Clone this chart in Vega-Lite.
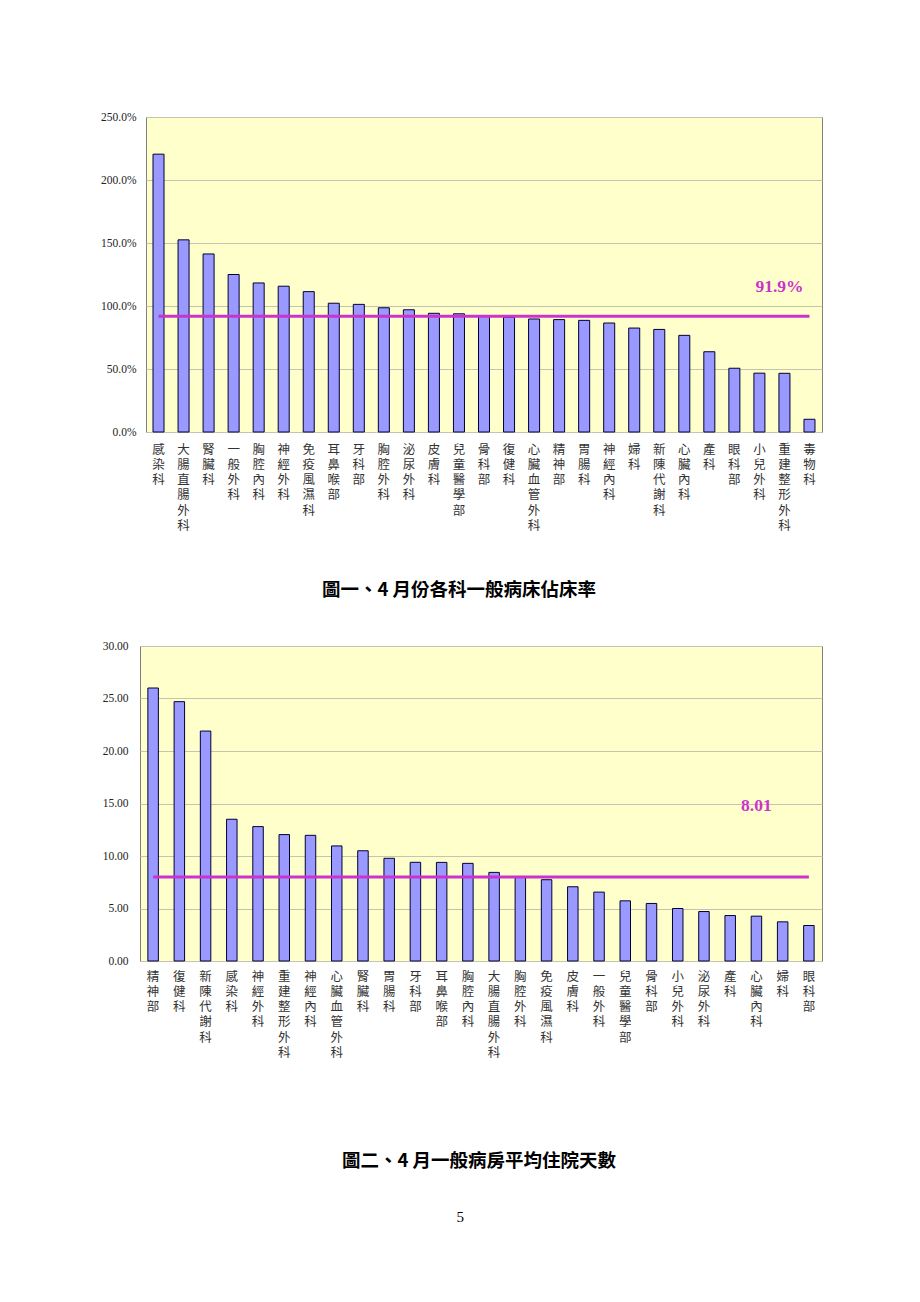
{
  "$schema": "https://vega.github.io/schema/vega-lite/v6.json",
  "background": "white",
  "padding": {"left": 100, "top": 110, "right": 0, "bottom": 0},
  "datasets": {
    "occ": [
      {"dept": "感染科", "rate": 220.5},
      {"dept": "大腸直腸外科", "rate": 152.5},
      {"dept": "腎臟科", "rate": 141.3},
      {"dept": "一般外科", "rate": 125.0},
      {"dept": "胸腔內科", "rate": 118.3},
      {"dept": "神經外科", "rate": 115.7},
      {"dept": "免疫風濕科", "rate": 111.4},
      {"dept": "耳鼻喉部", "rate": 102.2},
      {"dept": "牙科部", "rate": 101.3},
      {"dept": "胸腔外科", "rate": 98.6},
      {"dept": "泌尿外科", "rate": 97.0},
      {"dept": "皮膚科", "rate": 94.2},
      {"dept": "兒童醫學部", "rate": 93.8},
      {"dept": "骨科部", "rate": 92.4},
      {"dept": "復健科", "rate": 91.0},
      {"dept": "心臟血管外科", "rate": 89.7},
      {"dept": "精神部", "rate": 89.2},
      {"dept": "胃腸科", "rate": 88.6},
      {"dept": "神經內科", "rate": 86.5},
      {"dept": "婦科", "rate": 82.5},
      {"dept": "新陳代謝科", "rate": 81.4},
      {"dept": "心臟內科", "rate": 76.7},
      {"dept": "產科", "rate": 63.7},
      {"dept": "眼科部", "rate": 50.6},
      {"dept": "小兒外科", "rate": 46.7},
      {"dept": "重建整形外科", "rate": 46.6},
      {"dept": "毒物科", "rate": 10.1}
    ],
    "los": [
      {"dept": "精神部", "days": 26.0},
      {"dept": "復健科", "days": 24.7},
      {"dept": "新陳代謝科", "days": 21.9},
      {"dept": "感染科", "days": 13.5},
      {"dept": "神經外科", "days": 12.8},
      {"dept": "重建整形外科", "days": 12.04},
      {"dept": "神經內科", "days": 11.97},
      {"dept": "心臟血管外科", "days": 10.96},
      {"dept": "腎臟科", "days": 10.5},
      {"dept": "胃腸科", "days": 9.78},
      {"dept": "牙科部", "days": 9.4},
      {"dept": "耳鼻喉部", "days": 9.39},
      {"dept": "胸腔內科", "days": 9.3},
      {"dept": "大腸直腸外科", "days": 8.44},
      {"dept": "胸腔外科", "days": 8.05},
      {"dept": "免疫風濕科", "days": 7.74},
      {"dept": "皮膚科", "days": 7.07},
      {"dept": "一般外科", "days": 6.56},
      {"dept": "兒童醫學部", "days": 5.73},
      {"dept": "骨科部", "days": 5.48},
      {"dept": "小兒外科", "days": 5.0},
      {"dept": "泌尿外科", "days": 4.71},
      {"dept": "產科", "days": 4.33},
      {"dept": "心臟內科", "days": 4.27},
      {"dept": "婦科", "days": 3.73},
      {"dept": "眼科部", "days": 3.38}
    ],
    "occAvg": [{"avg": 91.9, "label": "91.9%"}],
    "losAvg": [{"avg": 8.01, "label": "8.01"}],
    "blank": [{"k": 0}]
  },
  "title": {
    "text": "5",
    "orient": "bottom",
    "anchor": "middle",
    "dx": -1,
    "font": "Liberation Serif",
    "fontSize": 15,
    "fontWeight": "normal",
    "color": "#000000",
    "offset": 39
  },
  "align": "none",
  "spacing": 39,
  "vconcat": [
    {
      "align": "none",
      "spacing": -44,
      "hconcat": [
        {
          "width": 1,
          "height": 1,
          "data": {"name": "blank"},
          "mark": {"type": "point", "opacity": 0},
          "encoding": {},
          "view": {"stroke": null, "fill": null}
        },
        {
          "width": 676,
          "height": 315,
          "title": {
            "text": "圖一、4 月份各科一般病床佔床率",
            "orient": "bottom",
            "anchor": "middle",
            "dx": -25,
            "offset": 49,
            "font": "Noto Sans CJK TC",
            "fontSize": 18.5,
            "fontWeight": "bold",
            "color": "#000000"
          },
          "layer": [
            {
              "data": {"name": "occ"},
              "mark": {"type": "bar", "fill": "#9999FF", "stroke": "#000033", "strokeWidth": 1},
              "encoding": {
                "x": {
                  "field": "dept", "type": "nominal", "sort": null,
                  "scale": {"paddingInner": 0.56, "paddingOuter": 0.28},
                  "axis": {"labelPadding": 11}
                },
                "y": {
                  "field": "rate", "type": "quantitative",
                  "scale": {"domain": [0, 250], "nice": false},
                  "axis": {
                    "values": [0, 50, 100, 150, 200, 250],
                    "labelExpr": "format(datum.value, '.1f') + '%'",
                    "labelPadding": 10
                  }
                }
              }
            },
            {
              "data": {"name": "occ"},
              "mark": {"type": "line", "color": "#CC33CC", "strokeWidth": 3},
              "encoding": {
                "x": {"field": "dept", "type": "nominal", "sort": null},
                "y": {"datum": 91.9}
              }
            },
            {
              "data": {"name": "occAvg"},
              "mark": {"type": "text", "font": "Liberation Serif", "fontSize": 17.5, "fontWeight": "bold", "color": "#CC33CC", "dx": -5, "dy": -29, "baseline": "middle", "align": "center"},
              "encoding": {
                "x": {"datum": "重建整形外科"},
                "y": {"field": "avg", "type": "quantitative"},
                "text": {"field": "label"}
              }
            }
          ]
        }
      ]
    },
    {
      "width": 682,
      "height": 315,
      "title": {
        "text": "圖二、4 月一般病房平均住院天數",
        "orient": "bottom",
        "anchor": "middle",
        "dx": -2,
        "offset": 93,
        "font": "Noto Sans CJK TC",
        "fontSize": 18.5,
        "fontWeight": "bold",
        "color": "#000000"
      },
      "layer": [
        {
          "data": {"name": "los"},
          "mark": {"type": "bar", "fill": "#9999FF", "stroke": "#000033", "strokeWidth": 1},
          "encoding": {
            "x": {
              "field": "dept", "type": "nominal", "sort": null,
              "scale": {"paddingInner": 0.6, "paddingOuter": 0.3},
              "axis": {"labelPadding": 9}
            },
            "y": {
              "field": "days", "type": "quantitative",
              "scale": {"domain": [0, 30], "nice": false},
              "axis": {
                "values": [0, 5, 10, 15, 20, 25, 30],
                "labelExpr": "format(datum.value, '.2f')",
                "labelPadding": 12
              }
            }
          }
        },
        {
          "data": {"name": "los"},
          "mark": {"type": "line", "color": "#CC33CC", "strokeWidth": 3},
          "encoding": {
            "x": {"field": "dept", "type": "nominal", "sort": null},
            "y": {"datum": 8.01}
          }
        },
        {
          "data": {"name": "losAvg"},
          "mark": {"type": "text", "font": "Liberation Serif", "fontSize": 17.5, "fontWeight": "bold", "color": "#CC33CC", "dx": 0, "dy": -71, "baseline": "middle", "align": "center"},
          "encoding": {
            "x": {"datum": "心臟內科"},
            "y": {"field": "avg", "type": "quantitative"},
            "text": {"field": "label"}
          }
        }
      ]
    }
  ],
  "config": {
    "view": {"fill": "#FFFFCC", "stroke": "#808080", "strokeWidth": 1},
    "axisX": {
      "title": null,
      "labelExpr": "split(datum.label, '')",
      "labelAngle": 0,
      "labelAlign": "center",
      "labelBaseline": "top",
      "labelFont": "Noto Sans CJK TC",
      "labelFontSize": 12.5,
      "labelLineHeight": 15.3,
      "labelColor": "#333333",
      "ticks": false,
      "domain": false,
      "grid": false
    },
    "axisY": {
      "title": null,
      "labelFont": "Liberation Serif",
      "labelFontSize": 11.5,
      "labelColor": "#222222",
      "labelPadding": 9,
      "ticks": false,
      "domain": false,
      "grid": true,
      "gridColor": "#C4C4B0",
      "gridWidth": 1
    }
  }
}
